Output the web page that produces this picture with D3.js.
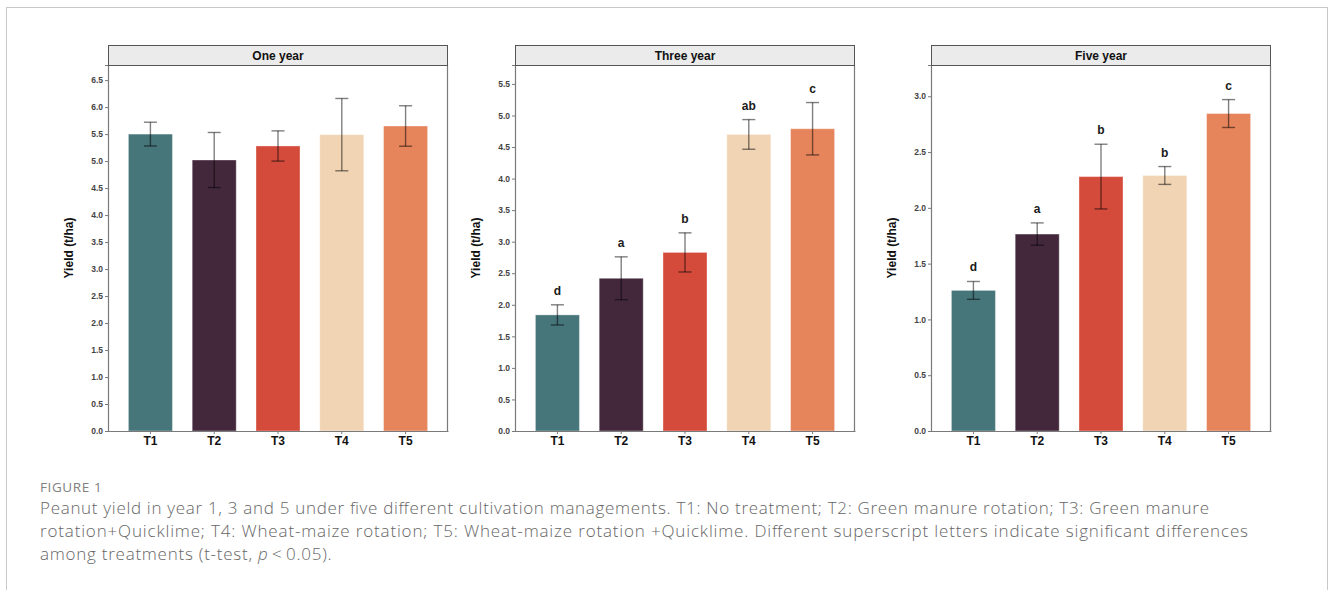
<!DOCTYPE html>
<html>
<head>
<meta charset="utf-8">
<script src="https://cdn.jsdelivr.net/npm/d3@7"></script>
<style>
  html, body { margin: 0; padding: 0; background: #fff; }
  svg { display: block; }
</style>
</head>
<body>
<svg id="chart" width="1330" height="590"></svg>
<script>
// ---------- data ----------
const categories = ["T1", "T2", "T3", "T4", "T5"];
const panelTitles = ["One year", "Three year", "Five year"];
const colors = ["#46757A", "#43283C", "#D44B3C", "#F0D4B4", "#E6845C"];

const oneYearMean = [5.50, 5.02, 5.28, 5.49, 5.65];
const oneYearErr  = [0.22, 0.51, 0.28, 0.67, 0.375];
const oneYearLetters = ["", "", "", "", ""];
const oneYearTicks = [0.0, 0.5, 1.0, 1.5, 2.0, 2.5, 3.0, 3.5, 4.0, 4.5, 5.0, 5.5, 6.0, 6.5];
const oneYearMax = 6.78;

const threeYearMean = [1.84, 2.42, 2.83, 4.70, 4.79];
const threeYearErr  = [0.16, 0.34, 0.31, 0.235, 0.415];
const threeYearLetters = ["d", "a", "b", "ab", "c"];
const threeYearTicks = [0.0, 0.5, 1.0, 1.5, 2.0, 2.5, 3.0, 3.5, 4.0, 4.5, 5.0, 5.5];
const threeYearMax = 5.8;

const fiveYearMean = [1.26, 1.765, 2.28, 2.29, 2.845];
const fiveYearErr  = [0.08, 0.10, 0.29, 0.08, 0.125];
const fiveYearLetters = ["d", "a", "b", "b", "c"];
const fiveYearTicks = [0.0, 0.5, 1.0, 1.5, 2.0, 2.5, 3.0];
const fiveYearMax = 3.28;

const yLabel = "Yield (t/ha)";
const captionTitle = "FIGURE 1";
const captionLines = [
  "Peanut yield in year 1, 3 and 5 under five different cultivation managements. T1: No treatment; T2: Green manure rotation; T3: Green manure",
  "rotation+Quicklime; T4: Wheat-maize rotation; T5: Wheat-maize rotation +Quicklime. Different superscript letters indicate significant differences",
];
const captionLast = ["among treatments (t-test, ", "p", "\u2009<\u20090.05)."];

// ---------- layout ----------
const svg = d3.select("#chart");

// outer frame
svg.append("rect")
  .attr("x", 6.5).attr("y", 7.5)
  .attr("width", 1321).attr("height", 600)
  .attr("fill", "none").attr("stroke", "#c8c8c8").attr("stroke-width", 1);

const panels = [
  { title: panelTitles[0], mean: oneYearMean, err: oneYearErr, letters: oneYearLetters, ticks: oneYearTicks, max: oneYearMax, x0: 108, x1: 448 },
  { title: panelTitles[1], mean: threeYearMean, err: threeYearErr, letters: threeYearLetters, ticks: threeYearTicks, max: threeYearMax, x0: 515, x1: 855 },
  { title: panelTitles[2], mean: fiveYearMean, err: fiveYearErr, letters: fiveYearLetters, ticks: fiveYearTicks, max: fiveYearMax, x0: 931, x1: 1271 },
];

const plotTop = 65, plotBottom = 431, headerTop = 45;
const axisColor = "#7a7a7a";
const font = "'Liberation Sans', Arial, sans-serif";

panels.forEach(p => {
  const g = svg.append("g");
  const x = d3.scaleBand().domain(categories).range([p.x0, p.x1])
    .paddingInner(0.31).paddingOuter(0.32);
  const y = d3.scaleLinear().domain([0, p.max]).range([plotBottom, plotTop]);

  // bars
  g.selectAll("rect.bar").data(categories).join("rect")
    .attr("class", "bar")
    .attr("x", d => x(d))
    .attr("width", x.bandwidth())
    .attr("y", (d, i) => y(p.mean[i]))
    .attr("height", (d, i) => y(0) - y(p.mean[i]))
    .attr("fill", (d, i) => colors[i])
    .attr("stroke", "#ffffff").attr("stroke-opacity", 0.35).attr("stroke-width", 1);

  // error bars
  const capW = 13;
  const eb = g.selectAll("g.err").data(categories).join("g").attr("class", "err")
    .attr("stroke", "#000").attr("stroke-opacity", 0.5).attr("stroke-width", 1.4);
  eb.append("line")
    .attr("x1", d => x(d) + x.bandwidth() / 2).attr("x2", d => x(d) + x.bandwidth() / 2)
    .attr("y1", (d, i) => y(p.mean[i] + p.err[i])).attr("y2", (d, i) => y(p.mean[i] - p.err[i]));
  eb.append("line")
    .attr("x1", d => x(d) + x.bandwidth() / 2 - capW / 2).attr("x2", d => x(d) + x.bandwidth() / 2 + capW / 2)
    .attr("y1", (d, i) => y(p.mean[i] + p.err[i])).attr("y2", (d, i) => y(p.mean[i] + p.err[i]));
  eb.append("line")
    .attr("x1", d => x(d) + x.bandwidth() / 2 - capW / 2).attr("x2", d => x(d) + x.bandwidth() / 2 + capW / 2)
    .attr("y1", (d, i) => y(p.mean[i] - p.err[i])).attr("y2", (d, i) => y(p.mean[i] - p.err[i]));

  // significance letters
  g.selectAll("text.sig").data(categories).join("text")
    .attr("class", "sig")
    .attr("x", d => x(d) + x.bandwidth() / 2)
    .attr("y", (d, i) => y(p.mean[i] + p.err[i]) - 10)
    .attr("text-anchor", "middle")
    .attr("font-family", font).attr("font-weight", "bold").attr("font-size", 12)
    .attr("fill", "#1a1a1a")
    .text((d, i) => p.letters[i]);

  // right border
  g.append("line")
    .attr("x1", p.x1 - 0.5).attr("x2", p.x1 - 0.5)
    .attr("y1", plotTop).attr("y2", plotBottom)
    .attr("stroke", axisColor).attr("stroke-width", 1.2);

  // y axis
  const ya = g.append("g").attr("transform", `translate(${p.x0},0)`)
    .call(d3.axisLeft(y).tickValues(p.ticks).tickFormat(d3.format(".1f")).tickSize(3).tickPadding(2));
  ya.select(".domain").attr("stroke", axisColor).attr("stroke-width", 1.2);
  ya.selectAll(".tick line").attr("stroke", axisColor);
  ya.selectAll(".tick text").attr("font-family", font).attr("font-size", 8.5)
    .attr("font-weight", "bold").attr("fill", "#444");

  // x axis
  const xa = g.append("g").attr("transform", `translate(0,${plotBottom})`)
    .call(d3.axisBottom(x).tickSize(3).tickPadding(2).tickSizeOuter(0));
  xa.select(".domain").attr("stroke", axisColor).attr("stroke-width", 1.2);
  xa.selectAll(".tick line").attr("stroke", axisColor);
  xa.selectAll(".tick text").attr("font-family", font).attr("font-size", 12)
    .attr("font-weight", "bold").attr("fill", "#111");

  // header strip
  g.append("rect")
    .attr("x", p.x0 + 0.5).attr("y", headerTop + 0.5)
    .attr("width", p.x1 - p.x0 - 1).attr("height", plotTop - headerTop)
    .attr("fill", "#ebebeb").attr("stroke", "#555").attr("stroke-width", 1);
  g.append("text")
    .attr("x", (p.x0 + p.x1) / 2).attr("y", headerTop + 15)
    .attr("text-anchor", "middle")
    .attr("font-family", font).attr("font-weight", "bold").attr("font-size", 12)
    .attr("fill", "#111")
    .text(p.title);

  // y label
  g.append("text")
    .attr("transform", `translate(${p.x0 - 35},${(plotTop + plotBottom) / 2}) rotate(-90)`)
    .attr("text-anchor", "middle")
    .attr("font-family", font).attr("font-weight", "bold").attr("font-size", 12)
    .attr("fill", "#111")
    .text(yLabel);
});

// caption
const capFont = "'Open Sans', 'Noto Sans', sans-serif";
svg.append("text")
  .attr("x", 40).attr("y", 492)
  .attr("font-family", capFont).attr("font-size", 13.5).attr("font-weight", 400)
  .attr("letter-spacing", 0.6)
  .attr("fill", "#808080")
  .text(captionTitle);

const lineTargets = [1169, 1208];
captionLines.forEach((line, i) => {
  svg.append("text")
    .attr("x", 40).attr("y", 514 + i * 23)
    .attr("font-family", capFont).attr("font-size", 17).attr("font-weight", 300)
    .attr("fill", "#666")
    .attr("textLength", lineTargets[i]).attr("lengthAdjust", "spacing")
    .text(line);
});
const last = svg.append("text")
  .attr("x", 40).attr("y", 514 + 2 * 23)
  .attr("font-family", capFont).attr("font-size", 17).attr("font-weight", 300)
  .attr("letter-spacing", 0.75)
  .attr("fill", "#666");
last.append("tspan").text(captionLast[0]);
last.append("tspan").attr("font-style", "italic").text(captionLast[1]);
last.append("tspan").text(captionLast[2]);
</script>
</body>
</html>
